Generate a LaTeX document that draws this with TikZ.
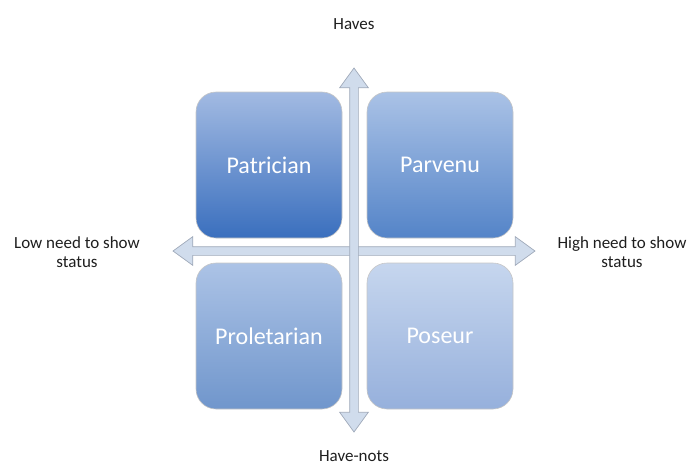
\documentclass[tikz,border=0pt]{standalone}
\usepackage{fontspec}
\setmainfont{Carlito}
\usepackage{tikz}
\usetikzlibrary{positioning, shapes.arrows, calc}
\definecolor{axisfill}{RGB}{208,220,236}
\definecolor{axisline}{RGB}{160,170,186}
\definecolor{labelgray}{RGB}{30,30,30}

\begin{document}
\begin{tikzpicture}[x=1pt, y=-1pt,
	quad/.style={rounded corners=20pt, minimum width=146pt, minimum height=146pt, draw=gray!45, line width=0.6pt, text=white, font=\fontsize{24}{26}\selectfont},
	axis/.style={double arrow, draw=axisline, fill=axisfill, line width=0.7pt, double arrow head extend=10pt, double arrow tip angle=72, inner xsep=0pt, inner ysep=4pt},
	axislabel/.style={align=center, text=labelgray, font=\fontsize{17}{19}\selectfont}]
	\useasboundingbox (0,0) rectangle (691,467);
	%% the two axes
	\node[axis, minimum height=362pt] (horiz) at (354,251) {};
	\node[axis, minimum height=364pt, rotate=90] (vert) at (354,250) {};
	
	%% the four quadrants
	\node[quad, top color={rgb,255:red,162;green,186;blue,226}, bottom color={rgb,255:red,58;green,111;blue,190}] (patrician) at (269,165) {Patrician};
	\node[quad, top color={rgb,255:red,170;green,194;blue,230}, bottom color={rgb,255:red,84;green,132;blue,200}] (parvenu) at (440,165) {Parvenu};
	\node[quad, top color={rgb,255:red,172;green,195;blue,230}, bottom color={rgb,255:red,112;green,150;blue,204}] (proletarian) at (269,336) {Proletarian};
	\node[quad, top color={rgb,255:red,198;green,214;blue,238}, bottom color={rgb,255:red,150;green,176;blue,220}] (poseur) at (440,336) {Poseur};
	
	%% axis labels
	\node[axislabel] (haves) at (354,24) {Haves};
	\node[axislabel] (havenots) at (354,456) {Have-nots};
	\node[axislabel] (low) at (77,252) {Low need to show\\status};
	\node[axislabel] (high) at (622,252) {High need to show\\status};
\end{tikzpicture}
\end{document}
